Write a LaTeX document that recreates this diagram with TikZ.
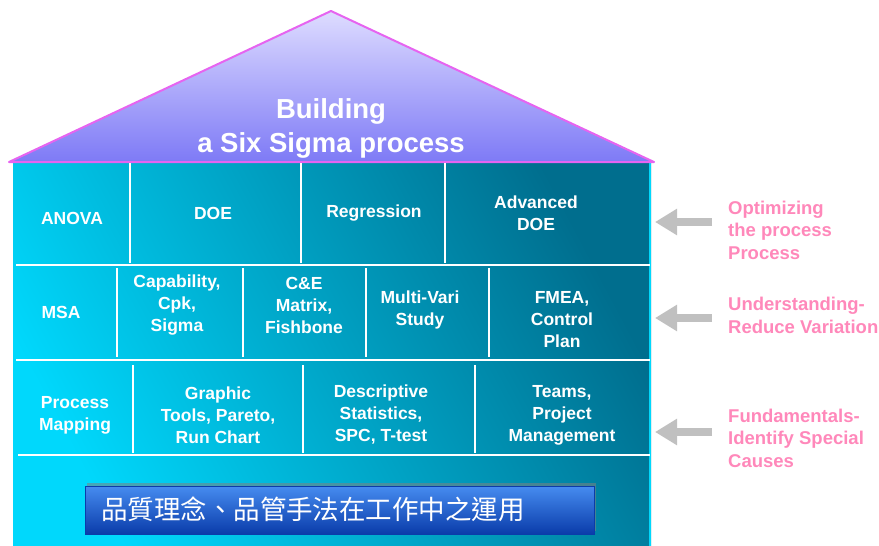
\documentclass[tikz,border=0pt]{standalone}
\usepackage{fontspec}
\setmainfont{Liberation Sans}
\newfontfamily\cjk{Noto Sans CJK TC}
\usetikzlibrary{arrows.meta}
\usetikzlibrary{shadows}
\definecolor{roofline}{RGB}{230,100,240}
\definecolor{rooftop}{RGB}{222,220,255}
\definecolor{roofbot}{RGB}{126,122,246}
\definecolor{wallhi}{RGB}{0,216,252}
\definecolor{walllo}{RGB}{0,110,142}
\definecolor{notepink}{RGB}{255,136,186}
\definecolor{arrowgray}{RGB}{192,192,192}
\definecolor{bannertop}{RGB}{70,140,240}
\definecolor{bannermid}{RGB}{16,88,216}
\definecolor{bannerbot}{RGB}{10,60,170}
\tikzset{
  cell/.style={
    text=white,
    font=\bfseries\fontsize{17.5}{22}\selectfont,
    align=center,
    inner sep=0,
  },
  title/.style={
    cell,
    font=\bfseries\fontsize{27.5}{34}\selectfont,
  },
  note/.style={
    text=notepink,
    font=\bfseries\fontsize{18.5}{22.5}\selectfont,
    align=left,
    anchor=west,
    inner sep=0,
  },
  divider/.style={
    draw=white,
    line width=2pt,
  },
  pointer/.style={
    draw=arrowgray,
    line width=8pt,
    -{Triangle[length=22pt,width=25pt]},
  },
  banner/.style={
    rectangle,
    draw=bannerbot,
    top color=bannertop,
    middle color=bannermid,
    bottom color=bannerbot,
    minimum width=509pt,
    minimum height=48pt,
    drop shadow={shadow xshift=1.5pt,shadow yshift=3pt,opacity=.55},
  },
}

\begin{document}
\begin{tikzpicture}[x=1pt,y=-1pt]
  \useasboundingbox (0,0) rectangle (879,546);

  % walls
  \shade[shading=axis,top color=walllo,bottom color=wallhi,shading angle=-62] (13,162) rectangle (651,546);
  \draw[wallhi,line width=1.5pt] (650,162) -- (650,546);

  % roof
  \shade[top color=rooftop,bottom color=roofbot] (9,162) -- (331,11) -- (654,162) -- cycle;
  \draw[roofline,line width=2pt,line join=round] (9,162) -- (331,11) -- (654,162) -- cycle;
  \node[title] at (331,128) (roof) {Building\\a Six Sigma process};

  % floors
  \draw[divider] (16,265) -- (650,265);
  \draw[divider] (16,360) -- (650,360);
  \draw[divider] (18,455) -- (650,455);

  \foreach \x in {130,301,445} \draw[divider] (\x,163) -- (\x,263);
  \foreach \x in {117,243,366,489} \draw[divider] (\x,268) -- (\x,357);
  \foreach \x in {133,303,475} \draw[divider] (\x,365) -- (\x,453);

  % top floor
  \node[cell] at (72,218) (anova) {ANOVA};
  \node[cell] at (213,213) (doe) {DOE};
  \node[cell] at (374,213) (regr) {Regression};
  \node[cell] at (536,213) (adoe) {Advanced\\DOE};

  % middle floor
  \node[cell] at (61,312) (msa) {MSA};
  \node[cell] at (177,305) (cap) {Capability,\\Cpk,\\Sigma};
  \node[cell] at (304,305) (ce) {C\&E\\Matrix,\\Fishbone};
  \node[cell] at (420,309.5) (mvari) {Multi-Vari\\Study};
  \node[cell] at (562,320) (fmea) {FMEA,\\Control\\Plan};

  % ground floor
  \node[cell] at (75,415) (pmap) {Process\\Mapping};
  \node[cell] at (218,415) (graph) {Graphic\\Tools, Pareto,\\Run Chart};
  \node[cell] at (381,415) (desc) {Descriptive\\Statistics,\\SPC, T-test};
  \node[cell] at (562,415) (teams) {Teams,\\Project\\Management};

  % foundation
  \node[banner] at (339.5,510) (base) {};
  \node[cell,font=\cjk\fontsize{26.5}{30}\selectfont] at (313,509) (basetext) {品質理念、品管手法在工作中之運用};

  % notes
  \node[note] at (728,230) (opt) {Optimizing\\the process\\Process};
  \node[note] at (728,315.5) (und) {Understanding-\\Reduce Variation};
  \node[note] at (728,438) (fund) {Fundamentals-\\Identify Special\\Causes};

  \coordinate (t1) at (712,222);
  \coordinate (h1) at (655,222);
  \coordinate (t2) at (712,318);
  \coordinate (h2) at (655,318);
  \coordinate (t3) at (712,432);
  \coordinate (h3) at (655,432);
  \draw[pointer] (t1) -- (h1);
  \draw[pointer] (t2) -- (h2);
  \draw[pointer] (t3) -- (h3);
\end{tikzpicture}
\end{document}
